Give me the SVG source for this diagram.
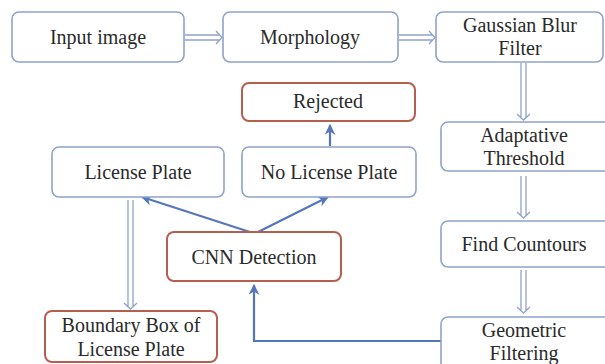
<svg xmlns="http://www.w3.org/2000/svg" width="605" height="364" viewBox="0 0 605 364">
<defs>
<style>
.b{fill:#ffffff;stroke:#8fa2cc;stroke-width:1.6}
.r{fill:#ffffff;stroke:#b5604e;stroke-width:2}
.t{font-size:20px;fill:#2a2a2a;text-anchor:middle}
.d{fill:none;stroke:#8ea3cc;stroke-width:1.3}
.a{fill:none;stroke:#5676bb;stroke-width:2.2}
</style>
<marker id="ah" viewBox="0 0 10 10" refX="9" refY="5" markerWidth="5" markerHeight="5" orient="auto">
<path d="M0,0 L10,5 L0,10 L3,5 Z" fill="#5676bb"/>
</marker>
</defs>
<rect width="605" height="364" fill="#ffffff"/>
<g id="connectors">
<path class="d" d="M185,35 H220 M185,40 H220 M216,31 L222,37.5 L216,44"/>
<path class="d" d="M399,35 H433 M399,40 H433 M429,31 L435,37.5 L429,44"/>
<path class="d" d="M521,63 V118 M526,63 V118 M517,114 L523.5,120 L530,114"/>
<path class="d" d="M521,176 V216 M526,176 V216 M517,212 L523.5,218 L530,212"/>
<path class="d" d="M521,270 V311 M526,270 V311 M517,307 L523.5,313 L530,307"/>
<path class="d" d="M128,200 V307 M133,200 V307 M124,303 L130.5,309 L137,303"/>
<path class="a" d="M330,146 V125" marker-end="url(#ah)"/>
<path class="a" d="M253,233 L142,197" marker-end="url(#ah)"/>
<path class="a" d="M256,233 L328,197" marker-end="url(#ah)"/>
<path class="a" d="M441,341 H254 V285" marker-end="url(#ah)"/>
</g>
<g font-family="Liberation Serif, Times New Roman, serif">
<g id="input"><rect class="b" x="12" y="12" width="172" height="50" rx="7"/><text class="t" x="98" y="44">Input image</text></g>
<g id="morph"><rect class="b" x="223" y="12" width="175" height="50" rx="7"/><text class="t" x="310" y="44">Morphology</text></g>
<g id="gauss"><rect class="b" x="436" y="12" width="167" height="50" rx="7"/><text class="t" x="520" y="32">Gaussian Blur</text><text class="t" x="520" y="55">Filter</text></g>
<g id="adapt"><rect class="b" x="441" y="122" width="175" height="49" rx="7"/><text class="t" x="524" y="142">Adaptative</text><text class="t" x="524" y="165">Threshold</text></g>
<g id="find"><rect class="b" x="441" y="221" width="175" height="46" rx="7"/><text class="t" x="524" y="251">Find Countours</text></g>
<g id="geo"><rect class="b" x="441" y="317" width="175" height="60" rx="7"/><text class="t" x="524" y="337">Geometric</text><text class="t" x="524" y="360">Filtering</text></g>
<g id="rejected"><rect class="r" x="242" y="83" width="173" height="38" rx="7"/><text class="t" x="328" y="108">Rejected</text></g>
<g id="lp"><rect class="b" x="52" y="147" width="172" height="50" rx="7"/><text class="t" x="138" y="179">License Plate</text></g>
<g id="nolp"><rect class="b" x="242" y="147" width="174" height="50" rx="7"/><text class="t" x="329" y="179">No License Plate</text></g>
<g id="cnn"><rect class="r" x="167" y="232" width="174" height="49" rx="7"/><text class="t" x="254" y="264">CNN Detection</text></g>
<g id="bbox"><rect class="r" x="45" y="311" width="172" height="51" rx="7"/><text class="t" x="131" y="332">Boundary Box of</text><text class="t" x="131" y="356">License Plate</text></g>
</g>
</svg>
